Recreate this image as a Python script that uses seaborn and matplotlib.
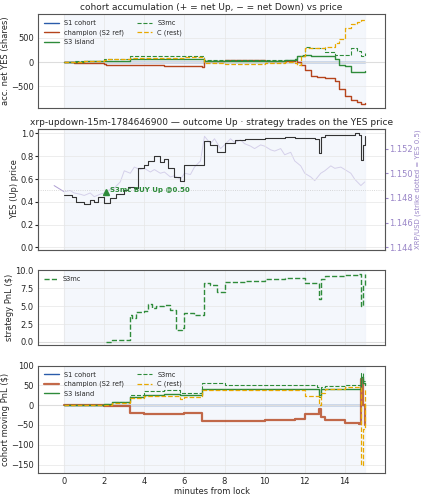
import numpy as np
import pandas as pd
import seaborn as sns
import matplotlib.pyplot as plt

sns.set_style("whitegrid")
plt.rcParams['font.family'] = ['DejaVu Sans']

# cohort accumulation (shares)
acc_t = [0, 0.5, 1, 2, 2.1, 3.3, 4, 5, 6, 6.9, 7, 8, 9, 10, 11, 11.5, 11.6, 11.8, 12, 12.3, 12.6, 13, 13.5, 13.7, 14, 14.3, 14.6, 14.8, 15]
s3mc_acc = [0, 20, 30, 60, 70, 130, 130, 130, 130, 120, 40, 40, 40, 40, 40, 40, 120, 150, 300, 280, 280, 200, 150, 150, 150, 280, 230, 130, 180]
champ_acc = [0, -20, -30, -50, -60, -70, -70, -80, -90, -100, 30, 40, 40, 30, 20, 40, 0, -60, -170, -280, -300, -320, -400, -550, -700, -780, -820, -860, -840]
s3_acc = [0, 10, 20, 30, 30, 60, 60, 60, 60, 60, 20, 20, 20, 30, 50, 60, 120, 130, 140, 130, 130, 130, 60, -60, -80, -200, -200, -200, -190]
c_acc = [0, 10, 20, 50, 60, 80, 80, 90, 100, 110, -20, -40, -40, -20, 0, -20, -60, 120, 280, 280, 280, 310, 400, 480, 700, 780, 830, 860, 880]

# YES price and XRP price
yes_t = [0, 0.4, 0.6, 1.0, 1.3, 1.5, 1.7, 2.0, 2.3, 2.6, 3.0, 3.2, 3.5, 3.7, 4.0, 4.2, 4.5, 4.8, 5.0, 5.2, 5.5, 5.8, 6.0, 6.5, 6.8, 7.0, 7.3, 7.6, 8.0, 8.5, 9, 10, 11, 11.5, 12, 12.5, 12.7, 12.8, 13, 13.5, 14, 14.5, 14.7, 14.8, 14.9, 15]
yes_p = [0.46, 0.44, 0.40, 0.38, 0.42, 0.40, 0.44, 0.39, 0.43, 0.47, 0.50, 0.53, 0.52, 0.70, 0.72, 0.76, 0.80, 0.75, 0.78, 0.70, 0.62, 0.58, 0.72, 0.72, 0.72, 0.93, 0.90, 0.84, 0.92, 0.94, 0.95, 0.96, 0.97, 0.96, 0.96, 0.95, 0.83, 0.97, 0.99, 0.99, 0.99, 1.0, 0.99, 0.77, 0.90, 0.98]
xrp_t = [-0.5, 0, 0.3, 0.5, 0.8, 1.0, 1.3, 1.5, 1.8, 2.0, 2.3, 2.5, 2.8, 3.0, 3.3, 3.5, 3.8, 4.0, 4.3, 4.5, 4.8, 5.0, 5.3, 5.5, 5.8, 6.0, 6.3, 6.5, 6.8, 7.0, 7.3, 7.5, 7.8, 8.0, 8.3, 8.5, 8.8, 9.0, 9.3, 9.5, 9.8, 10.0, 10.3, 10.5, 10.8, 11.0, 11.3, 11.5, 11.8, 12.0, 12.3, 12.5, 12.8, 13.0, 13.3, 13.5, 13.8, 14.0, 14.3, 14.5, 14.8, 15.0]
xrp_p = [1.1490, 1.1485, 1.1486, 1.1484, 1.1483, 1.1482, 1.1484, 1.1481, 1.1483, 1.1484, 1.1487, 1.1488, 1.1493, 1.1502, 1.1500, 1.1505, 1.1503, 1.1504, 1.1501, 1.1503, 1.1500, 1.1501, 1.1497, 1.1498, 1.1495, 1.1500, 1.1499, 1.1505, 1.1510, 1.1530, 1.1524, 1.1528, 1.1520, 1.1523, 1.1528, 1.1525, 1.1527, 1.1524, 1.1522, 1.1520, 1.1523, 1.1522, 1.1519, 1.1518, 1.1520, 1.1515, 1.1517, 1.1510, 1.1506, 1.1500, 1.1497, 1.1494, 1.1500, 1.1502, 1.1506, 1.1504, 1.1505, 1.1503, 1.1500, 1.1495, 1.1490, 1.1493]

# strategy PnL (S3mc)
pnl_t = [2.1, 2.4, 2.9, 3.0, 3.3, 3.4, 3.6, 4.0, 4.2, 4.4, 4.6, 5.0, 5.3, 5.6, 5.9, 6.0, 6.5, 6.9, 7.0, 7.3, 7.6, 8.0, 9, 10, 11, 11.6, 12, 12.6, 12.7, 12.8, 13, 14, 14.7, 14.8, 14.9, 15]
pnl_v = [0.0, 0.3, 0.3, 0.3, 3.8, 3.4, 4.2, 4.3, 5.3, 4.8, 5.0, 5.2, 4.4, 1.6, 2.0, 4.0, 3.8, 3.8, 8.3, 8.0, 7.0, 8.4, 8.5, 8.8, 9.0, 9.0, 8.3, 8.2, 6.0, 8.8, 9.2, 9.4, 9.5, 5.0, 8.0, 9.5]

# cohort moving PnL
mp_t = [0, 1, 2, 2.4, 3.3, 4, 5, 5.8, 6.0, 6.9, 8, 10, 11.5, 12, 12.6, 12.7, 12.8, 13, 14, 14.7, 14.8, 14.9, 15]
s3mc_mp = [0, 0, 2, 8, 25, 35, 38, 30, 30, 55, 52, 52, 52, 50, 45, 20, 45, 48, 50, 52, 80, 60, 55]
champ_mp = [0, 0, -2, -3, -20, -22, -22, -22, -20, -40, -40, -38, -35, -22, -22, -10, -30, -38, -45, -48, 65, 0, -50]
s3_mp = [0, 0, 2, 8, 20, 25, 28, 25, 25, 40, 40, 40, 40, 42, 42, 25, 42, 42, 42, 42, 70, 55, 50]
c_mp = [0, 0, 1, 5, 18, 22, 22, 15, 20, 38, 38, 38, 38, 22, 22, 0, 30, 40, 45, 45, -150, -60, 40]

blue, red, green, orange = '#2a5caa', '#b5441c', '#2e8b3a', '#e8a800'

fig, axes = plt.subplots(4, 1, figsize=(4.23, 5.0), dpi=100, sharex=True,
                         gridspec_kw={'height_ratios': [95, 122, 75, 108]})
fig.subplots_adjust(left=0.09, right=0.91, top=0.972, bottom=0.055, hspace=0.21)
for ax in axes:
    ax.axvspan(0, 15, color='#eef2fa', alpha=0.6, zorder=0)
    ax.tick_params(labelsize=6, length=2, pad=1)
    for s in ax.spines.values():
        s.set_color('#555555')
    ax.grid(color='#e6e6e6', lw=0.5)
    ax.set_xlim(-1.3, 16.0)

def step(ax, t, v, **kw):
    ax.plot(t, v, drawstyle='steps-post', **kw)

ax = axes[0]
ax.axhline(0, color='#dddddd', lw=0.8)
step(ax, acc_t, [0]*len(acc_t), color=blue, lw=1.0, label='S1 cohort', zorder=1)
step(ax, acc_t, champ_acc, color=red, lw=1.0, label='champion (S2 ref)')
step(ax, acc_t, s3_acc, color=green, lw=1.0, label='S3 island')
step(ax, acc_t, s3mc_acc, color=green, lw=0.8, ls='--', label='S3mc')
step(ax, acc_t, c_acc, color=orange, lw=0.9, ls='--', label='C (rest)')
ax.set_ylim(-950, 990)
ax.set_yticks([-500, 0, 500])
ax.set_ylabel('acc. net YES (shares)', fontsize=6, labelpad=1)
ax.set_title('cohort accumulation (+ = net Up, − = net Down) vs price', fontsize=6.5, pad=3)
ax.legend(ncol=2, fontsize=4.8, loc='upper left', frameon=False, handlelength=2.2)

ax = axes[1]
ax.axhline(0.5, color='#cccccc', lw=0.6, ls=':')
ax2 = ax.twinx()
sns.lineplot(x=xrp_t, y=xrp_p, ax=ax2, color='#9a86c8', lw=0.7, alpha=0.8)
ax2.set_ylim(1.1438, 1.1536)
ax2.set_yticks([1.144, 1.146, 1.148, 1.150, 1.152])
ax2.tick_params(labelsize=6, colors='#9a86c8', length=2, pad=1)
ax2.set_ylabel('XRP/USD (strike dotted = YES 0.5)', fontsize=5, color='#9a86c8', labelpad=1)
ax2.grid(False)
step(ax2, [], [])
ax.set_zorder(ax2.get_zorder() + 1)
ax.patch.set_visible(False)
step(ax, yes_t, yes_p, color='#333333', lw=0.8)
ax.plot([2.1], [0.49], marker='^', color=green, ms=5)
ax.text(2.3, 0.49, 'S3mc BUY Up @0.50', fontsize=5, color=green, fontweight='bold')
ax.set_ylim(-0.02, 1.04)
ax.set_ylabel('YES (Up) price', fontsize=6, labelpad=1)
ax.set_title('xrp-updown-15m-1784646900 — outcome Up · strategy trades on the YES price', fontsize=6.5, pad=3)

ax = axes[2]
ax.axhline(0, color='#dddddd', lw=0.8)
step(ax, pnl_t, pnl_v, color=green, lw=1.0, ls='--', label='S3mc')
ax.set_ylim(-0.4, 10.0)
ax.set_yticks([0, 2.5, 5, 7.5, 10])
ax.set_ylabel('strategy PnL ($)', fontsize=6, labelpad=1)
ax.legend(fontsize=4.8, loc='upper left', frameon=False)

ax = axes[3]
ax.axhline(0, color='#dddddd', lw=0.8)
step(ax, mp_t, [0]*len(mp_t), color=blue, lw=1.0, label='S1 cohort', zorder=1)
step(ax, mp_t, champ_mp, color=red, lw=1.6, alpha=0.8, label='champion (S2 ref)')
step(ax, mp_t, s3_mp, color=green, lw=1.0, label='S3 island')
step(ax, mp_t, s3mc_mp, color=green, lw=0.8, ls='--', label='S3mc')
step(ax, mp_t, c_mp, color=orange, lw=0.9, ls='--', label='C (rest)')
ax.set_ylim(-170, 100)
ax.set_yticks([-150, -100, -50, 0, 50, 100])
ax.set_ylabel('cohort moving PnL ($)', fontsize=6, labelpad=1)
ax.set_xlabel('minutes from lock', fontsize=6, labelpad=1)
ax.set_xticks([0, 2, 4, 6, 8, 10, 12, 14])
ax.legend(ncol=2, fontsize=4.8, loc='upper left', frameon=False, handlelength=2.2)

fig.savefig('out.png', dpi=100)
